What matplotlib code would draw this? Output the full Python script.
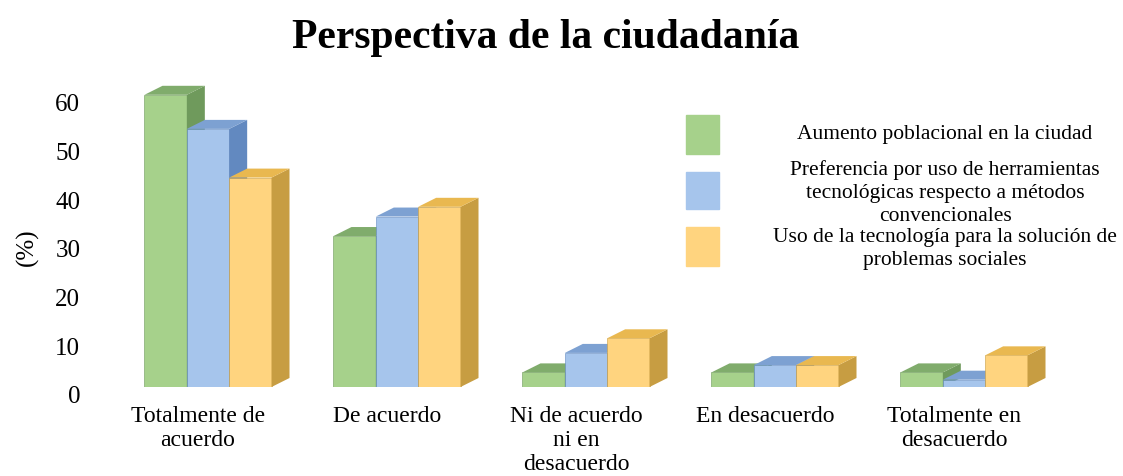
import matplotlib.pyplot as plt
from matplotlib.transforms import ScaledTranslation
import numpy as np

plt.rcParams['font.family'] = ['Liberation Serif', 'DejaVu Serif']

# data
categories = ["Totalmente de\nacuerdo", "De acuerdo", "Ni de acuerdo\nni en\ndesacuerdo",
              "En desacuerdo", "Totalmente en\ndesacuerdo"]
series_names = ["Aumento poblacional en la ciudad",
                "Preferencia por uso de herramientas\ntecnológicas respecto a métodos\nconvencionales",
                "Uso de la tecnología para la solución de\nproblemas sociales"]
aumento = [60, 31, 3, 3, 3]
preferencia = [53, 35, 7, 4.5, 1.5]
uso_tec = [43, 37, 10, 4.5, 6.5]
yticks = [0, 10, 20, 30, 40, 50, 60]

# colours: front, top, side
styles = [("#A6D18B", "#80AC6C", "#6F9A5C"),
          ("#A6C5EC", "#7DA1D2", "#6289C0"),
          ("#FFD47F", "#E9B850", "#C79D42")]

W, H, DPI = 1123, 477, 100
fig = plt.figure(figsize=(W / DPI, H / DPI), dpi=DPI)

# layout in pixels
x0_px, xs_px = 208, 189     # first group centre, group spacing
base_px, ys_px = 388, 4.87  # zero line (from top), px per %
ax_l, ax_r, ax_t = 115, 1060, 55
ax = fig.add_axes([ax_l / W, (H - base_px) / H, (ax_r - ax_l) / W, (base_px - ax_t) / H])
ax.set_xlim((ax_l - x0_px) / xs_px, (ax_r - x0_px) / xs_px)
ax.set_ylim(0, (base_px - ax_t) / ys_px)

w = 0.224
dx = 18 / xs_px
dy = 9 / ys_px
x = np.arange(len(categories))
z = 2
for i in range(len(categories)):
    for j, vals in enumerate([aumento, preferencia, uso_tec]):
        front, top, side = styles[j]
        left = x[i] + (j - 1.5) * w
        v = vals[i]
        ax.bar(left, v, width=w, align='edge', color=front, edgecolor=side,
               linewidth=0.4, zorder=z)
        ax.fill([left + w, left + w + dx, left + w + dx, left + w],
                [0, dy, v + dy, v], color=side, zorder=z, lw=0)
        ax.fill([left, left + dx, left + w + dx, left + w],
                [v, v + dy, v + dy, v], color=top, zorder=z, lw=0)
        z += 1

for s in ax.spines.values():
    s.set_visible(False)

ax.set_yticks(yticks)
ax.set_yticklabels([str(t) for t in yticks], fontsize=18)
ax.tick_params(axis='y', length=0, pad=25)
for lab in ax.get_yticklabels():
    lab.set_transform(lab.get_transform() + ScaledTranslation(0, -7 / DPI, fig.dpi_scale_trans))

ax.set_xticks(x)
ax.set_xticklabels(categories, fontsize=17, linespacing=1.2)
ax.tick_params(axis='x', length=0, pad=13)
for lab in ax.get_xticklabels():
    lab.set_transform(lab.get_transform() + ScaledTranslation(-10 / DPI, 0, fig.dpi_scale_trans))

fig.text(27 / W, 1 - 247 / H, "(%)", rotation=90, fontsize=18, ha='center', va='center')

fig.text(546 / W, 1 - 48 / H, "Perspectiva de la ciudadanía", fontsize=30,
         fontweight='bold', ha='center', va='baseline')

# legend
sq_y = [(116, 155), (173, 210), (228, 267)]
txt_y = [135, 193, 249]
for j, name in enumerate(series_names):
    y1, y2 = sq_y[j]
    fig.patches.append(plt.Rectangle((686 / W, 1 - y2 / H), 33 / W, (y2 - y1) / H,
                                     transform=fig.transFigure, color=styles[j][0]))
    fig.text(945 / W, 1 - txt_y[j] / H, name, fontsize=15.5, ha='center', va='center',
             multialignment='center', linespacing=1.3)

fig.savefig("out.png", dpi=DPI)
